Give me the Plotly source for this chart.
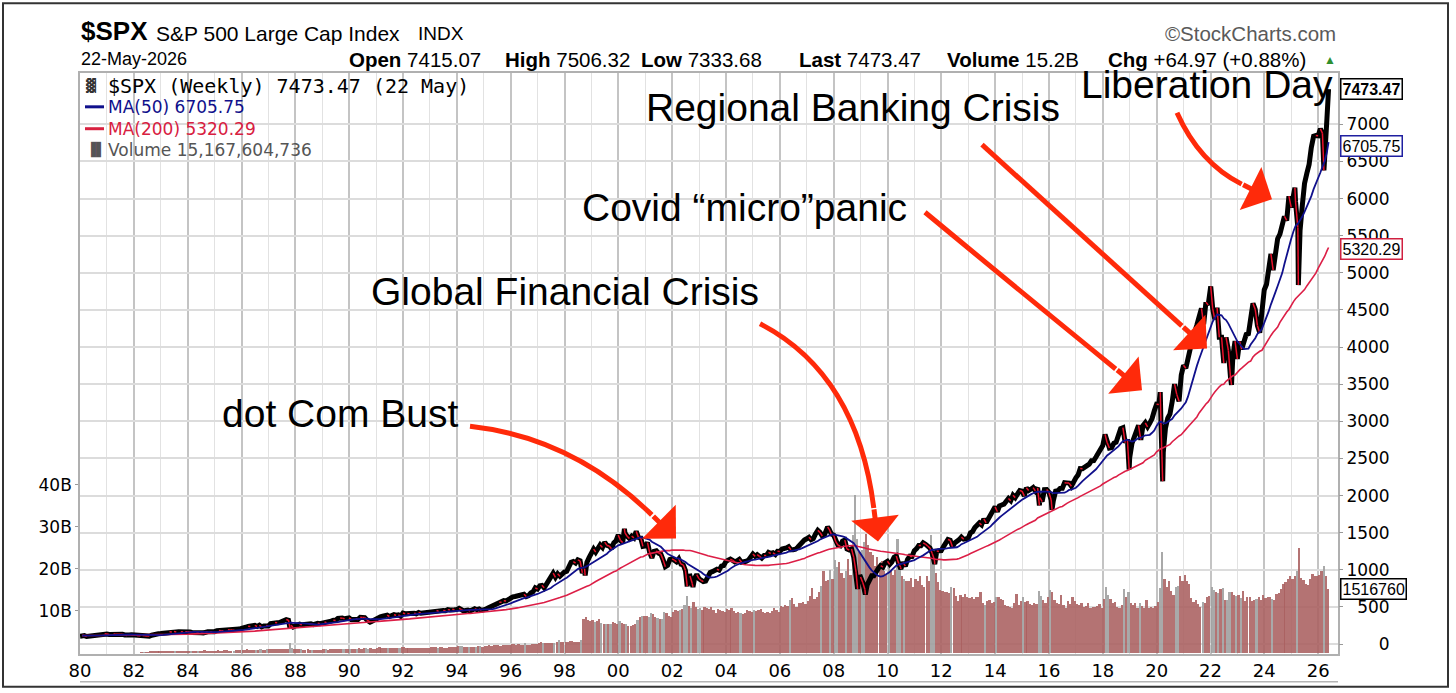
import numpy as np
import pandas as pd
import plotly.graph_objects as go

# ── data: S&P 500 month-end closes, Jan 1980 .. May 2026 ──
close_1980s = [
    114.2, 113.7, 102.1, 106.3, 111.2, 114.2, 121.7, 122.4, 125.5, 127.5, 140.5, 135.8,
    129.6, 131.3, 136.0, 132.8, 132.6, 131.2, 130.9, 122.8, 116.2, 121.9, 126.4, 122.6,
    120.4, 113.1, 111.9, 116.4, 111.9, 109.6, 107.1, 119.5, 120.4, 133.7, 138.5, 140.6,
    145.3, 148.1, 153.0, 164.4, 162.4, 168.1, 162.6, 164.4, 166.1, 163.6, 166.4, 164.9,
    163.4, 157.1, 159.2, 160.1, 150.6, 153.2, 150.7, 166.7, 166.1, 166.1, 163.6, 167.2,
    179.6, 181.2, 180.7, 179.8, 189.6, 191.9, 190.9, 188.6, 182.1, 189.8, 202.2, 211.3,
    211.8, 226.9, 238.9, 235.5, 247.4, 250.8, 236.1, 252.9, 231.3, 244.0, 249.2, 242.2,
    274.1, 284.2, 291.7, 288.4, 290.1, 304.0, 318.7, 329.8, 321.8, 251.8, 230.3, 247.1,
    257.1, 267.8, 258.9, 261.3, 262.2, 273.5, 272.0, 261.5, 271.9, 279.0, 273.7, 277.7,
    297.5, 288.9, 294.9, 309.6, 320.5, 318.0, 346.1, 351.5, 349.2, 340.4, 346.0, 353.4,
]
close_1990s = [
    329.1, 331.9, 339.9, 330.8, 361.2, 358.0, 356.2, 322.6, 306.1, 304.0, 322.2, 330.2,
    343.9, 367.1, 375.2, 375.3, 389.8, 371.2, 387.8, 395.4, 387.9, 392.5, 375.2, 417.1,
    408.8, 412.7, 403.7, 415.0, 415.4, 408.1, 424.2, 414.0, 417.8, 418.7, 431.4, 435.7,
    438.8, 443.4, 451.7, 440.2, 450.2, 450.5, 448.1, 463.6, 458.9, 467.8, 461.8, 466.5,
    481.6, 467.1, 445.8, 450.9, 456.5, 444.3, 458.3, 475.5, 462.7, 472.4, 453.7, 459.3,
    470.4, 487.4, 500.7, 514.7, 533.4, 544.8, 562.1, 561.9, 584.4, 581.5, 605.4, 615.9,
    636.0, 640.4, 645.5, 654.2, 669.1, 670.6, 640.0, 652.0, 687.3, 705.3, 757.0, 740.7,
    786.2, 790.8, 757.1, 801.3, 848.3, 885.1, 954.3, 899.5, 947.3, 914.6, 955.4, 970.4,
    980.3, 1049.3, 1101.8, 1111.8, 1090.8, 1133.8, 1120.7, 957.3, 1017.0, 1098.7, 1163.6, 1229.2,
    1279.6, 1238.3, 1286.4, 1335.2, 1301.8, 1372.7, 1328.7, 1320.4, 1282.7, 1362.9, 1388.9, 1469.3,
]
close_2000s = [
    1394.5, 1366.4, 1498.6, 1452.4, 1420.6, 1454.6, 1430.8, 1517.7, 1436.5, 1429.4, 1315.2, 1320.3,
    1366.0, 1239.9, 1160.3, 1249.5, 1255.8, 1224.4, 1211.2, 1133.6, 1040.9, 1059.8, 1139.5, 1148.1,
    1130.2, 1106.7, 1147.4, 1076.9, 1067.1, 989.8, 911.6, 916.1, 815.3, 885.8, 936.3, 879.8,
    855.7, 841.2, 848.2, 916.9, 963.6, 974.5, 990.3, 1008.0, 996.0, 1050.7, 1058.2, 1111.9,
    1131.1, 1144.9, 1126.2, 1107.3, 1120.7, 1140.8, 1101.7, 1104.2, 1114.6, 1130.2, 1173.8, 1211.9,
    1181.3, 1203.6, 1180.6, 1156.9, 1191.5, 1191.3, 1234.2, 1220.3, 1228.8, 1207.0, 1249.5, 1248.3,
    1280.1, 1280.7, 1294.8, 1310.6, 1270.1, 1270.2, 1276.7, 1303.8, 1335.9, 1377.9, 1400.6, 1418.3,
    1438.2, 1406.8, 1420.9, 1482.4, 1530.6, 1503.4, 1455.3, 1474.0, 1526.8, 1549.4, 1481.1, 1468.4,
    1378.6, 1330.6, 1322.7, 1385.6, 1400.4, 1280.0, 1267.4, 1282.8, 1166.4, 968.8, 896.2, 903.3,
    825.9, 735.1, 797.9, 872.8, 919.1, 919.3, 987.5, 1020.6, 1057.1, 1036.2, 1095.6, 1115.1,
]
close_2010s = [
    1073.9, 1104.5, 1169.4, 1186.7, 1089.4, 1030.7, 1101.6, 1049.3, 1141.2, 1183.3, 1180.6, 1257.6,
    1286.1, 1327.2, 1325.8, 1363.6, 1345.2, 1320.6, 1292.3, 1218.9, 1131.4, 1253.3, 1247.0, 1257.6,
    1312.4, 1365.7, 1408.5, 1397.9, 1310.3, 1362.2, 1379.3, 1406.6, 1440.7, 1412.2, 1416.2, 1426.2,
    1498.1, 1514.7, 1569.2, 1597.6, 1630.7, 1606.3, 1685.7, 1633.0, 1681.6, 1756.5, 1805.8, 1848.4,
    1782.6, 1859.5, 1872.3, 1884.0, 1923.6, 1960.2, 1930.7, 2003.4, 1972.3, 2018.1, 2067.6, 2058.9,
    1995.0, 2104.5, 2067.9, 2085.5, 2107.4, 2063.1, 2103.8, 1972.2, 1920.0, 2079.4, 2080.4, 2043.9,
    1940.2, 1932.2, 2059.7, 2065.3, 2097.0, 2098.9, 2173.6, 2171.0, 2168.3, 2126.2, 2198.8, 2238.8,
    2278.9, 2363.6, 2362.7, 2384.2, 2411.8, 2423.4, 2470.3, 2471.7, 2519.4, 2575.3, 2647.6, 2673.6,
    2823.8, 2713.8, 2640.9, 2648.1, 2705.3, 2718.4, 2816.3, 2901.5, 2914.0, 2711.7, 2760.2, 2506.9,
    2704.1, 2784.5, 2834.4, 2945.8, 2752.1, 2941.8, 2980.4, 2926.5, 2976.7, 3037.6, 3141.0, 3230.8,
]
close_2020s = [
    3225.5, 2954.2, 2584.6, 2912.4, 3044.3, 3100.3, 3271.1, 3500.3, 3363.0, 3270.0, 3621.6, 3756.1,
    3714.2, 3811.2, 3972.9, 4181.2, 4204.1, 4297.5, 4395.3, 4522.7, 4307.5, 4605.4, 4567.0, 4766.2,
    4515.6, 4373.9, 4530.4, 4131.9, 4132.2, 3785.4, 4130.3, 3955.0, 3585.6, 3872.0, 4080.1, 3839.5,
    4076.6, 3970.2, 4109.3, 4169.5, 4179.8, 4450.4, 4589.0, 4507.7, 4288.1, 4193.8, 4567.8, 4769.8,
    4845.7, 5096.3, 5254.4, 5035.7, 5277.5, 5460.5, 5522.3, 5648.4, 5762.5, 5705.5, 6032.4, 5881.6,
    6040.5, 5954.5, 5611.9, 5569.1, 5911.7, 6205.0, 6339.4, 6460.3, 6688.5, 6840.2, 6849.1, 6845.5,
    6940.0, 6880.0, 6520.0, 7080.0, 7473.47,
]

# intra-month extremes visible as spikes of the weekly bars
extreme_dates = ["1980-01-02", "1987-10-20", "1990-10-11", "1998-10-08", "2000-03-24",
                 "2002-07-24", "2002-10-10", "2007-10-11", "2008-11-21", "2009-03-06",
                 "2010-07-01", "2011-10-04", "2015-08-24", "2016-02-11", "2018-12-24",
                 "2020-02-19", "2020-03-23", "2022-01-04", "2022-10-13", "2025-02-19",
                 "2025-04-07", "2026-03-20"]
extreme_vals = [105.8, 217.0, 295.0, 923.0, 1553.0,
                776.0, 769.0, 1576.0, 741.0, 667.0,
                1011.0, 1075.0, 1867.0, 1810.0, 2351.0,
                3393.0, 2192.0, 4818.0, 3492.0, 6147.0,
                4835.0, 6380.0]

# weekly volume (billions), one value per month
vol_1980s = [
    0, 0, 0, 0, 0, 0, 0, 0, 0, 0, 0, 0,
    0, 0, 0, 0, 0, 0, 0, 0, 0, 0, 0, 0,
    0, 0, 0, 0.3, 0.35, 0.3, 0.35, 0.45, 0.4, 0.45, 0.4, 0.4,
    0.45, 0.5, 0.45, 0.5, 0.55, 0.5, 0.45, 0.5, 0.5, 0.55, 0.5, 0.45,
    0.5, 0.55, 0.5, 0.45, 0.5, 0.55, 0.5, 0.65, 0.55, 0.5, 0.5, 0.55,
    0.55, 0.6, 0.55, 0.5, 0.6, 0.6, 0.55, 0.5, 0.55, 0.6, 0.7, 0.75,
    0.75, 0.8, 0.85, 0.8, 0.75, 0.8, 0.8, 0.75, 0.85, 0.8, 0.8, 0.85,
    0.95, 1.0, 1.0, 0.95, 0.9, 0.9, 0.95, 1.0, 0.95, 2.3, 1.3, 1.0,
    0.9, 0.85, 0.85, 0.8, 0.8, 0.85, 0.75, 0.8, 0.75, 0.8, 0.8, 0.75,
    0.85, 0.85, 0.8, 0.85, 0.9, 0.9, 0.85, 0.9, 0.85, 1.0, 0.9, 0.85,
]
vol_1990s = [
    1.0, 1.0, 1.0, 1.0, 1.1, 1.0, 1.1, 1.2, 1.0, 1.1, 1.0, 1.0,
    1.3, 1.4, 1.3, 1.2, 1.2, 1.2, 1.1, 1.2, 1.2, 1.3, 1.3, 1.4,
    1.4, 1.3, 1.2, 1.2, 1.2, 1.3, 1.2, 1.1, 1.2, 1.3, 1.3, 1.3,
    1.4, 1.5, 1.4, 1.3, 1.4, 1.4, 1.3, 1.3, 1.4, 1.5, 1.5, 1.4,
    1.6, 1.6, 1.7, 1.5, 1.5, 1.5, 1.4, 1.5, 1.5, 1.6, 1.6, 1.5,
    1.7, 1.7, 1.8, 1.6, 1.8, 1.9, 1.8, 1.7, 1.8, 1.9, 1.9, 1.9,
    2.1, 2.1, 2.0, 2.2, 2.0, 2.0, 2.3, 1.9, 2.0, 2.1, 2.2, 2.2,
    2.4, 2.5, 2.4, 2.4, 2.3, 2.4, 2.4, 2.4, 2.5, 3.0, 2.6, 2.5,
    2.7, 2.7, 2.8, 2.8, 2.6, 2.7, 2.7, 3.2, 8.0, 8.6, 7.8, 7.6,
    7.8, 7.4, 7.6, 8.0, 7.2, 7.0, 6.8, 6.9, 7.0, 7.4, 7.2, 7.0,
]
vol_2000s = [
    7.6, 7.2, 7.0, 6.8, 6.5, 6.4, 6.6, 6.8, 7.8, 8.6, 8.8, 8.9,
    8.8, 8.6, 9.6, 9.2, 8.6, 8.4, 8.2, 8.0, 9.8, 9.4, 8.8, 8.6,
    9.8, 10.2, 10.0, 10.2, 10.4, 11.4, 13.5, 11.2, 10.8, 12.2, 11.0, 10.4,
    10.6, 10.2, 11.0, 10.6, 10.4, 11.0, 10.2, 9.6, 10.4, 10.2, 10.0, 9.8,
    10.4, 10.2, 10.6, 10.0, 9.6, 9.8, 9.6, 9.2, 9.6, 10.2, 10.0, 9.8,
    10.2, 10.0, 10.2, 10.4, 9.8, 9.6, 9.8, 9.4, 10.0, 10.6, 10.2, 9.8,
    11.2, 11.0, 11.4, 11.2, 12.6, 13.0, 11.6, 11.0, 11.8, 12.0, 12.2, 11.6,
    12.4, 13.6, 15.4, 12.8, 13.2, 14.6, 16.0, 19.6, 17.0, 17.4, 19.8, 17.6,
    22.0, 20.4, 21.6, 19.0, 17.8, 19.4, 22.4, 18.6, 28.0, 37.5, 27.0, 24.0,
    24.6, 26.4, 28.2, 25.6, 24.0, 23.4, 20.6, 22.8, 21.4, 21.8, 19.6, 18.8,
]
vol_2010s = [
    20.8, 19.6, 18.6, 19.8, 27.0, 21.4, 18.2, 17.6, 17.2, 17.0, 17.8, 15.8,
    17.6, 17.0, 18.4, 16.2, 15.8, 18.2, 17.0, 28.0, 21.0, 19.0, 16.8, 15.0,
    14.8, 14.4, 14.6, 14.2, 15.6, 15.4, 13.6, 12.4, 13.8, 13.4, 14.0, 13.2,
    13.0, 13.4, 12.8, 13.2, 13.4, 14.6, 11.8, 11.4, 12.4, 12.6, 12.0, 12.2,
    13.2, 13.4, 12.8, 12.6, 11.4, 11.2, 11.0, 10.6, 11.8, 14.0, 11.4, 12.4,
    13.2, 12.2, 12.4, 11.6, 11.4, 12.0, 11.6, 14.8, 13.6, 12.6, 12.0, 13.2,
    15.0, 14.6, 12.6, 12.0, 11.6, 13.8, 11.4, 10.8, 12.4, 11.6, 13.4, 12.4,
    11.6, 11.4, 12.0, 11.0, 11.2, 12.0, 10.6, 11.0, 11.0, 11.2, 11.6, 10.8,
    12.8, 15.6, 13.8, 12.8, 11.8, 12.2, 11.0, 10.8, 11.4, 15.2, 13.2, 14.6,
    12.0, 11.4, 11.8, 10.8, 12.0, 11.2, 10.8, 12.6, 10.8, 11.0, 10.6, 11.2,
]
vol_2020s = [
    12.2, 15.4, 24.0, 17.6, 15.6, 17.0, 14.8, 13.8, 15.8, 16.0, 18.2, 17.0,
    18.6, 17.2, 16.4, 13.0, 12.2, 12.6, 11.6, 11.0, 12.2, 11.8, 13.2, 13.6,
    15.8, 15.0, 14.6, 14.2, 15.2, 15.4, 12.6, 12.6, 14.6, 14.4, 13.8, 13.6,
    13.8, 13.0, 14.8, 12.4, 13.4, 13.4, 12.4, 12.6, 12.8, 13.4, 12.6, 13.8,
    13.0, 13.2, 13.4, 12.8, 12.6, 14.0, 14.2, 15.2, 16.4, 16.8, 17.6, 18.2,
    17.6, 18.2, 19.6, 25.0, 17.8, 17.4, 16.4, 16.2, 17.6, 18.8, 18.4, 18.2,
    18.6, 19.4, 20.6, 18.2, 15.17,
]

price_ticks = list(range(0, 7001, 500))
vol_ticks = [10, 20, 30, 40]
vol_tick_text = ["10B", "20B", "30B", "40B"]

close = close_1980s + close_1990s + close_2000s + close_2010s + close_2020s
volume = vol_1980s + vol_1990s + vol_2000s + vol_2010s + vol_2020s

month_start = pd.date_range("1980-01-01", periods=len(close), freq="MS")
month_end = month_start + pd.offsets.MonthEnd(0)
month_end = month_end[:-1].append(pd.DatetimeIndex(["2026-05-22"]))
vol_dates = month_start + pd.Timedelta(days=15)

s = pd.Series(close, index=month_end)
ma50 = s.rolling("350D").mean()      # 50 weeks
ma200 = s.rolling("1400D").mean()    # 200 weeks

line = pd.concat([s, pd.Series(extreme_vals, index=pd.to_datetime(extreme_dates))]).sort_index()

# down moves drawn in red on top of the black price line
red_x, red_y = [], []
for i in range(1, len(line)):
    if line.iloc[i] < line.iloc[i - 1]:
        red_x += [line.index[i - 1], line.index[i], None]
        red_y += [line.iloc[i - 1], line.iloc[i], None]

# volume bars: brown-red, grey where the month fell hard
chg = np.r_[0, np.diff(close) / np.array(close[:-1])]
vol_colors = np.where(chg < -0.025, "rgba(160,160,160,0.9)", "rgba(170,96,96,0.88)")

# ── pixel helpers (plot box in page pixels) ────────────────────────────────────
L, R, T, B = 80, 1338, 73, 657
def px(x):
    return (x - L) / (R - L)
def py(y):
    return (B - y) / (B - T)

fig = go.Figure()
fig.add_trace(go.Bar(x=vol_dates, y=volume, marker_color=vol_colors, marker_line_width=0,
                     width=30.4 * 86400000, yaxis="y"))
fig.add_trace(go.Scatter(x=line.index, y=line.values, mode="lines",
                         line=dict(color="black", width=5), yaxis="y2"))
fig.add_trace(go.Scatter(x=red_x, y=red_y, mode="lines",
                         line=dict(color="#e8102a", width=1.5), yaxis="y2"))
fig.add_trace(go.Scatter(x=ma200.index, y=ma200.values, mode="lines",
                         line=dict(color="#dc1e46", width=1.6), yaxis="y2"))
fig.add_trace(go.Scatter(x=ma50.index, y=ma50.values, mode="lines",
                         line=dict(color="#10108c", width=1.8), yaxis="y2"))

axis_font = dict(family="DejaVu Sans", size=17, color="black")
fig.update_layout(
    width=1456, height=693,
    margin=dict(l=L, r=1456 - R, t=T, b=693 - B),
    paper_bgcolor="white", plot_bgcolor="white",
    showlegend=False, bargap=0,
    font=dict(family="Liberation Sans", color="black"),
    xaxis=dict(type="date", range=["1980-01-01", "2026-09-27"],
               tickformat="%y", dtick="M24", tick0="1980-01-01",
               tickfont=dict(family="DejaVu Sans", size=18, color="black"),
               showgrid=True, gridcolor="#c4c4c4", gridwidth=1.5,
               minor=dict(dtick="M12", showgrid=True, gridcolor="#e2e2e2", gridwidth=1),
               showline=True, linecolor="#b0b0b0", linewidth=1.5, mirror=True,
               ticks="", zeroline=False),
    yaxis=dict(range=[-0.24, 137.9], side="left", tickvals=vol_ticks, ticktext=vol_tick_text,
               tickfont=axis_font, ticks="outside", ticklen=3, tickcolor="#999",
               showgrid=False, zeroline=False,
               showline=True, linecolor="#b0b0b0", linewidth=1.5, mirror=True),
    yaxis2=dict(range=[-134, 7692], side="right", overlaying="y",
                tickvals=price_ticks,
                ticktext=[("\u2007" * (4 - len(str(v)))) + str(v) for v in price_ticks],
                tickfont=axis_font, ticks="outside", ticklen=4, tickcolor="#999",
                showgrid=True, gridcolor="#dcdcdc", gridwidth=1.5, zeroline=False),
)

ann = []
def text(x, y, t, size, family="Liberation Sans", color="black", anchor="left"):
    ann.append(dict(x=px(x), y=py(y), xref="paper", yref="paper", text=t, showarrow=False,
                    xanchor=anchor, yanchor="middle",
                    font=dict(family=family, size=size, color=color)))

# header
text(79, 31, "<b>$SPX</b>", 26)
text(154, 33, "S&P 500 Large Cap Index", 21)
text(416, 33, "INDX", 19)
text(79, 59, "22-May-2026", 18)
for x0, label, val in [(347, "Open", "7415.07"), (503, "High", "7506.32"), (639, "Low", "7333.68"),
                       (797, "Last", "7473.47"), (945, "Volume", "15.2B"), (1106, "Chg", "+64.97 (+0.88%)")]:
    text(x0, 59, f"<b>{label}</b> {val}", 20.5)
text(1330, 60, "\u25b2", 12, color="#2f8f2f", anchor="center")
text(1338, 33, "\u00a9StockCharts.com", 20.5, color="#5a5a5a", anchor="right")

# legend block
text(84, 86, "\u2593", 13, family="DejaVu Sans", color="#333")
text(106, 86, "$SPX (Weekly) 7473.47 (22 May)", 20, family="DejaVu Sans Mono")
text(106, 107, "MA(50) 6705.75", 17, family="DejaVu Sans", color="#10108c")
text(106, 129, "MA(200) 5320.29", 17, family="DejaVu Sans", color="#d8203f")
text(84, 150, "\u2590\u258c", 13, family="DejaVu Sans", color="#555")
text(106, 150, "Volume 15,167,604,736", 17, family="DejaVu Sans", color="#555")

# event captions
for cx, cy, t in [(1207, 85, "Liberation Day"), (853, 108, "Regional Banking Crisis"),
                  (745, 208, "Covid \u201cmicro\u201dpanic"), (565, 293, "Global Financial Crisis"),
                  (340, 415, "dot Com Bust")]:
    text(cx, cy, t, 39, anchor="center")

# last-value boxes on the right axis
def box(yval, yref, t, border, bold=False):
    ann.append(dict(x=1.0, y=yval, xref="paper", yref=yref, xanchor="left", yanchor="middle",
                    xshift=2, showarrow=False, text=f"<b>{t}</b>" if bold else t,
                    font=dict(family="Liberation Sans", size=16, color="black"),
                    bgcolor="white", bordercolor=border, borderwidth=1.5, borderpad=1))
box(7473.47, "y2", "7473.47", "black", bold=True)
box(6705.75, "y2", "6705.75", "#1f1fa0")
box(5320.29, "y2", "5320.29", "#d02040")
box(15.17, "y", "1516760", "black")

# hand-drawn style red arrows: tail, a point on the curve, tip (page pixels)
arrows = [((470, 428), (573, 462), (676, 541)),
          ((760, 325), (838, 405), (878, 544)),
          ((925, 213), (1030, 300), (1142, 392)),
          ((982, 145), (1095, 248), (1207, 350)),
          ((1177, 113), (1212, 160), (1272, 200))]
shapes = []
for (t0, m, h) in arrows:
    t0, m, h = np.array(t0, float), np.array(m, float), np.array(h, float)
    c = 2 * m - (t0 + h) / 2
    u = (h - c) / np.linalg.norm(h - c)
    e = h - 34 * u
    shapes.append(dict(type="path", xref="paper", yref="paper",
                       path=f"M {px(t0[0])},{py(t0[1])} Q {px(c[0])},{py(c[1])} {px(e[0])},{py(e[1])}",
                       line=dict(color="#ff2a0a", width=5)))
    ann.append(dict(x=px(h[0]), y=py(h[1]), xref="paper", yref="paper", text="",
                    showarrow=True, arrowhead=1, arrowsize=1.6, arrowwidth=5,
                    arrowcolor="#ff2a0a", ax=e[0] - h[0], ay=e[1] - h[1]))

# legend dashes, rule under the date labels, outer frame
shapes.append(dict(type="line", xref="paper", yref="paper", x0=px(85), x1=px(104),
                   y0=py(107), y1=py(107), line=dict(color="#10108c", width=3)))
shapes.append(dict(type="line", xref="paper", yref="paper", x0=px(85), x1=px(104),
                   y0=py(129), y1=py(129), line=dict(color="#d8203f", width=3)))
shapes.append(dict(type="line", xref="paper", yref="paper", x0=0, x1=1,
                   y0=py(685), y1=py(685), line=dict(color="#b4b4b4", width=1.5)))
shapes.append(dict(type="rect", xref="paper", yref="paper", x0=px(3), x1=px(1448),
                   y0=py(690), y1=py(3), line=dict(color="#333", width=2)))

fig.update_layout(annotations=ann, shapes=shapes)
fig.write_html("out.html", config={"displayModeBar": False},
               post_script="document.body.style.margin='0';")
